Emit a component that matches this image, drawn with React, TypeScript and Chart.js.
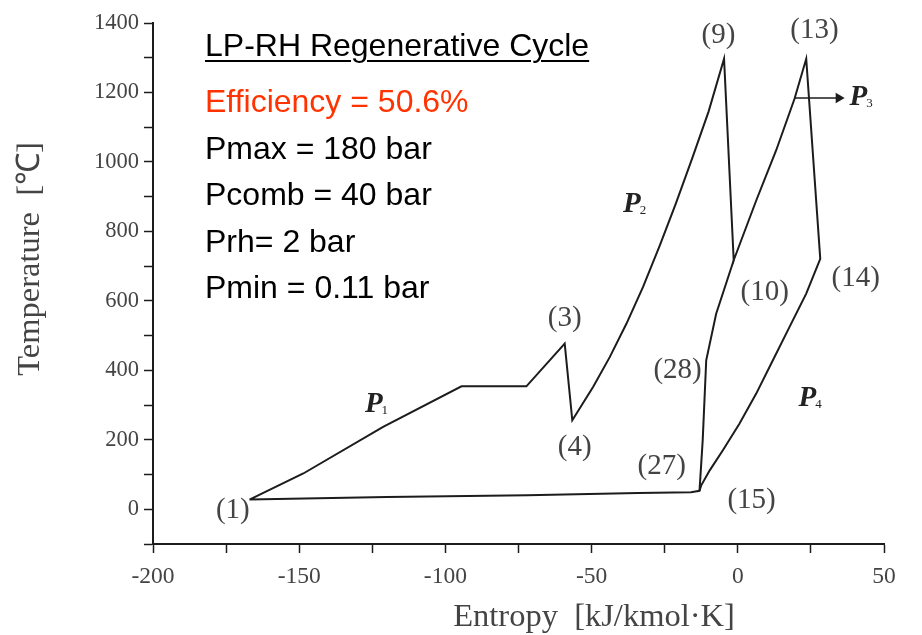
import React, { useEffect, useRef } from "react";
import { Chart, registerables } from "chart.js";

Chart.register(...registerables);

// ---- data (entropy s [kJ/kmol·K], temperature T [°C]) ----
const compS = [-167, -148.6, -121.3, -94.5, -72.3, -59.2, -56.6];
const compT = [28, 103, 237, 354, 354, 477, 256];
const p2S = [-49.5, -43.8, -38.1, -32.4, -26.7, -21.2, -15.6, -10.0, -4.7];
const p2T = [352, 438, 534, 640, 759, 880, 1010, 1145, 1297];
const expS = [-1.4];
const expT = [717];
const reheatS = [6.3, 13.1, 19.4, 23.4];
const reheatT = [889, 1033, 1182, 1297];
const p4S = [28.2, 23.4, 17.7, 12.0, 6.3, 0.6, -5.1, -9.6, -12.5, -13.1];
const p4T = [721, 621, 525, 429, 333, 247, 170, 112, 69, 53];
const coolS = [-16, -34, -72, -120, -167];
const coolT = [49, 47, 40, 35, 28];
const regenS = [-13.1, -12, -10.8, -7.4, -4, -1.4];
const regenT = [53, 199, 429, 563, 650, 717];
const arrowS = [19.4, 34.5];
const arrowT = [1184, 1184];

// state point labels
const stateNames = ["(1)", "(3)", "(4)", "(9)", "(13)", "(10)", "(14)", "(28)", "(27)", "(15)"];
const stateS = [-172.7, -59.2, -55.8, -6.6, 26.2, 9.2, 40.3, -20.6, -26, 4.7];
const stateT = [-3, 550, 178, 1364, 1378, 624, 665, 400, 124, 26];

// pressure line labels
const pressSub = ["1", "2", "3", "4"];
const pressS = [-124.5, -36.2, 41.2, 23.8];
const pressT = [302, 878, 1186, 319];

// axis ticks
const xMin = -200, xMax = 50, xMajor = 50, xMinor = 25;
const yMin = -100, yMax = 1400, yMajor = 200, yMinor = 100;

// text block
const titleText = "LP-RH Regenerative Cycle";
const effText = "Efficiency = 50.6%";
const paramLines = ["Pmax = 180 bar", "Pcomb = 40 bar", "Prh= 2 bar", "Pmin = 0.11 bar"];

const zip = (s: number[], t: number[]) => s.map((v, i) => ({ x: v, y: t[i] }));

const LINE = "#1c1c1c";
const GRAY = "#444";
const SERIF = '"Liberation Serif", "Times New Roman", serif';
const SANS = '"Liberation Sans", Arial, sans-serif';

const labelPlugin = {
  id: "labels",
  afterDraw(chart: any) {
    const { ctx, scales, chartArea } = chart;
    const xs = scales.x, ys = scales.y;
    ctx.save();
    ctx.fillStyle = GRAY;
    ctx.textAlign = "center";
    ctx.textBaseline = "middle";
    ctx.font = `29px ${SERIF}`;
    stateNames.forEach((n, i) => {
      ctx.fillText(n, xs.getPixelForValue(stateS[i]), ys.getPixelForValue(stateT[i]));
    });
    // P labels
    pressSub.forEach((sub, i) => {
      const px = xs.getPixelForValue(pressS[i]);
      const py = ys.getPixelForValue(pressT[i]);
      ctx.fillStyle = "#222";
      ctx.font = `bold italic 29px ${SERIF}`;
      ctx.textAlign = "center";
      ctx.textBaseline = "middle";
      ctx.fillText("P", px, py);
      const w = ctx.measureText("P").width;
      ctx.font = `13px ${SERIF}`;
      ctx.textAlign = "left";
      ctx.textBaseline = "alphabetic";
      ctx.fillText(sub, px + w / 2 - 1, py + 10);
    });
    // axis titles
    ctx.fillStyle = GRAY;
    ctx.font = `32.5px ${SERIF}`;
    ctx.textAlign = "center";
    ctx.textBaseline = "middle";
    ctx.fillText("Entropy  [kJ/kmol·K]", chartArea.left + 441, chartArea.bottom + 73);
    ctx.translate(30, chartArea.top + 236);
    ctx.rotate(-Math.PI / 2);
    ctx.fillText("Temperature  [℃]", 0, 0);
    ctx.restore();
  },
};

export default function App() {
  const ref = useRef<HTMLCanvasElement>(null);
  useEffect(() => {
    if (!ref.current) return;
    const base = { showLine: true, borderColor: LINE, borderWidth: 2, pointRadius: 0, tension: 0, fill: false };
    const cycle = [
      ...zip(compS, compT),
      ...zip(p2S, p2T),
      ...zip(expS, expT),
      ...zip(reheatS, reheatT),
      ...zip(p4S, p4T),
      ...zip(coolS, coolT),
    ];
    const chart = new Chart(ref.current, {
      type: "scatter",
      data: {
        datasets: [
          { ...base, data: cycle },
          { ...base, data: zip(regenS, regenT) },
          {
            ...base,
            borderWidth: 1.5,
            data: zip(arrowS, arrowT),
            pointRadius: [0, 6],
            pointStyle: "triangle",
            rotation: 90,
            pointBackgroundColor: LINE,
            pointBorderColor: LINE,
            pointBorderWidth: 0,
          },
        ] as any,
      },
      options: {
        animation: false,
        responsive: true,
        maintainAspectRatio: false,
        layout: { padding: { left: 0, top: 23, right: 38, bottom: 0 } },
        plugins: { legend: { display: false }, tooltip: { enabled: false }, title: { display: false } },
        scales: {
          x: {
            type: "linear",
            min: xMin,
            max: xMax,
            afterFit: (s: any) => { s.height = 91; },
            ticks: {
              stepSize: xMinor,
              padding: 10,
              color: GRAY,
              font: { family: SERIF, size: 23.5 },
              maxRotation: 0,
              autoSkip: false,
              callback: (v: any) => (Number(v) % xMajor === 0 ? String(v) : ""),
            },
            grid: { drawOnChartArea: false, drawTicks: true, tickLength: 9, tickColor: LINE, tickWidth: 1.5 },
            border: { display: true, color: LINE, width: 2 },
          },
          y: {
            type: "linear",
            min: yMin,
            max: yMax,
            afterFit: (s: any) => { s.width = 153; },
            ticks: {
              stepSize: yMinor,
              padding: 5,
              color: GRAY,
              font: { family: SERIF, size: 22.5 },
              autoSkip: false,
              callback: (v: any) => (Number(v) >= 0 && Number(v) % yMajor === 0 ? String(v) : ""),
            },
            grid: { drawOnChartArea: false, drawTicks: true, tickLength: 9, tickColor: LINE, tickWidth: 1.5 },
            border: { display: true, color: LINE, width: 2 },
          },
        },
      } as any,
      plugins: [labelPlugin],
    });
    return () => chart.destroy();
  }, []);

  const fs = 32;
  const lineTop = (baseline: number) => baseline - 0.3465 * fs;
  const textStyle = (baseline: number, color = "#000", underline = false): React.CSSProperties => ({
    position: "absolute",
    left: 205,
    top: lineTop(baseline),
    fontFamily: SANS,
    fontSize: fs,
    lineHeight: 0,
    whiteSpace: "nowrap",
    color,
    textDecoration: underline ? "underline" : "none",
    textDecorationThickness: underline ? "2px" : undefined,
    textUnderlineOffset: underline ? "4px" : undefined,
  });

  return (
    <div style={{ position: "fixed", left: 0, top: 0, width: 922, height: 635, background: "#fff" }}>
      <canvas ref={ref} />
      <div style={textStyle(56, "#000", true)}>{titleText}</div>
      <div style={textStyle(112.5, "#ff3300")}>{effText}</div>
      {paramLines.map((t, i) => (
        <div key={i} style={textStyle(159 + i * 46.4)}>{t}</div>
      ))}
    </div>
  );
}
